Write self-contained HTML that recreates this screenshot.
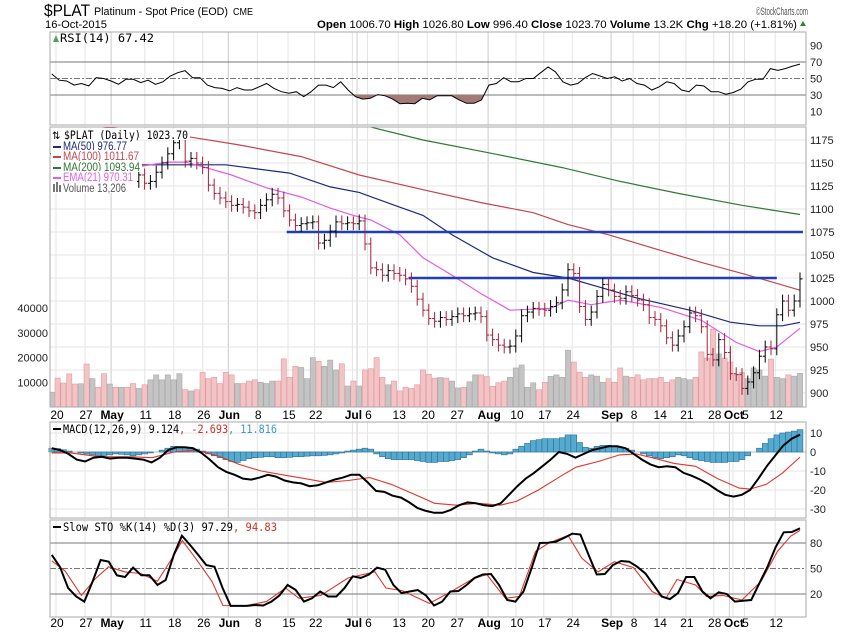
<!DOCTYPE html>
<html><head><meta charset="utf-8"><title>$PLAT chart</title>
<style>
html,body{margin:0;padding:0;background:#fff;}
svg{display:block;font-family:"Liberation Sans",sans-serif;}
.mono{font-family:"DejaVu Sans Mono","Liberation Mono",monospace;}
</style></head>
<body>
<svg id="chart" width="850" height="633" viewBox="0 0 850 633" xmlns="http://www.w3.org/2000/svg">
<defs>
<clipPath id="mainClip"><rect x="50" y="127" width="756" height="280"/></clipPath>
<clipPath id="rsiLowClip"><rect x="50" y="95" width="756" height="30"/></clipPath>
</defs>
<text x="44" y="16" font-size="17" textLength="46" lengthAdjust="spacingAndGlyphs">$PLAT</text>
<text x="94" y="15" font-size="11" textLength="134" lengthAdjust="spacingAndGlyphs">Platinum  - Spot Price (EOD)</text>
<text x="233" y="15" font-size="10" textLength="20" lengthAdjust="spacingAndGlyphs">CME</text>
<text x="808" y="15" font-size="11" fill="#555" text-anchor="end" textLength="52" lengthAdjust="spacingAndGlyphs">©StockCharts.com</text>
<text x="45" y="28" font-size="11" textLength="62" lengthAdjust="spacingAndGlyphs">16-Oct-2015</text>
<text x="317" y="28" font-size="11" textLength="480" lengthAdjust="spacingAndGlyphs"><tspan font-weight="bold">Open</tspan> 1006.70 <tspan font-weight="bold">High</tspan> 1026.80 <tspan font-weight="bold">Low</tspan> 996.40 <tspan font-weight="bold">Close</tspan> 1023.70 <tspan font-weight="bold">Volume</tspan> 13.2K <tspan font-weight="bold">Chg</tspan> +18.20 (+1.81%)</text>
<polygon points="800,26 806,26 803,21" fill="#2a8a2a"/>
<g id="layer"></g>
</svg>
<script>
// ---------- DATA ----------
const closes = [1160,1155,1150,1140,1135,1145,1140,1150,1145,1138,1142,1135,1140,1138,1130,
1137,1128,1130,1140,1150,1160,1172,1176,1152,1155,1150,1145,1126,1117,1112,
1108,1104,1105,1102,1098,1096,1104,1110,1116,1112,1098,1088,1082,1084,1085,
1086,1063,1066,1076,1086,1084,1085,1084,1087,1062,1036,1034,1028,1033,1030,
1028,1024,1016,1002,990,981,978,982,980,983,986,984,986,987,983,
963,958,952,950,951,962,984,988,992,991,990,994,998,1012,1034,
1030,994,980,988,1005,1018,1012,1005,1003,1010,1006,1001,996,982,980,
973,960,952,962,972,987,984,972,942,936,958,944,921,920,905,
912,922,940,950,948,985,1000,990,1000,1024];
const volumes = [6000,11700,9700,13400,9300,9400,17400,11500,8000,13500,9300,8000,8000,8000,9500,
7500,9000,11000,13000,11000,13000,11000,13500,7000,6500,7000,14000,11500,12000,9500,
14000,13000,9500,9500,10500,11000,10000,9500,10500,10500,19500,12000,16500,16000,11500,
20000,18500,16500,19000,15000,17500,8500,10500,8500,15000,15500,20000,12000,9000,10500,
6500,8000,7500,9000,
15000,13300,11700,11900,11700,10500,7700,8000,10200,13000,13000,12300,8400,9800,10500,12000,15800,17000,8000,9800,7000,10000,12400,13000,12000,23000,
18200,14100,12000,13000,12500,10000,11500,10000,15800,12500,12000,13000,11000,11500,11500,12000,10000,11000,12000,11500,11000,12000,
22300,19800,31500,21500,19800,
18200,13000,14000,11500,15800,15000,12500,19400,12000,11500,13000,12500,13600];
const ma50Idx = [15,30,41,48,53,60,64,69,76,83,89,95,101,110,117,122,126,129];
const ma50Val = [1148,1148,1139,1124,1118,1102,1093,1072,1047,1031,1025,1014,1003,990,977,973,973,976.8];
const ma100Idx = [0,15,24,32,43,53,64,74,83,89,96,105,112,119,124,129];
const ma100Val = [1195,1185,1178,1170,1157,1137,1121,1107,1096,1083,1072,1055,1042,1030,1021,1011.7];
const ma200Idx = [55,64,77,88,98,108,119,129];
const ma200Val = [1189,1175,1159,1145,1130,1117,1104,1094];
const emaIdx = [15,20,23,26,31,37,43,48,52,55,60,64,69,74,79,86,89,93,98,105,112,118,122,125,129];
const emaVal = [1146,1151,1151,1146,1137,1123,1113,1101,1093,1088,1072,1047,1028,1008,990,992,1001,996,1001,993,979,955,945,950,970.3];
const levelLines = [1075,1025];
const levelStart = [40.5,61.5];
const levelEnd = [129.5,125];
const priceTicks = [1175,1150,1125,1100,1075,1050,1025,1000,975,950,925,900];
const volTicks = [40000,30000,20000,10000];
const rsiVals = [55.5,48,47,42,44,41,51,50,47,43,49,49,45,48,43,46,53,57,59.5,51,51,42,39,38,35,39,36,36,40,44,38,34,32,34,28,34,42,42,39,46,36,28,25,26,30.5,29,25,19.5,20,19.5,26,24,29,29,29,24,20,20,24,42,44,51,46,46,50,50,57,64,58,46,42,44,51,56,53,50,52,47,50,44,42,36,40,46,44,36,34,42,41,34,34,31,33,37,46,49,49,62,60,62,65,67.4];
const rsiTicks = [90,70,50,30,10];
const macdVals = [2,1,-1,-4,-5,-3,-2.5,-3.5,-3,-3,-3.5,-4,-5.5,-3,1,2.5,2.5,2,-0.5,-4,-8,-10.5,-12,-14,-14.5,-13.5,-12,-13,-15,-16,-16.5,-18,-17.5,-16,-14.5,-13.5,-12,-12,-16,-20.5,-21,-23,-24,-26.5,-29.5,-31,-32,-32,-30.5,-28,-26.5,-27,-28,-28.5,-27,-22.5,-18,-14,-11,-7.5,-4,0,-1,-3,-1,1,2,3,3,2,-1,-4,-6.5,-8,-7.5,-8,-11,-12.5,-14.5,-17,-20,-22.5,-23.5,-22.5,-20,-14,-7.5,-2,3.5,7,9.1];
const sigIdx = [0,3.3,7,9.8,13.6,17.3,21.1,24.8,28.6,32.3,36.1,39.8,43.6,47.3,51.1,54.8,58.5,62.3,66,69.8,73.5,77.3,80.1,83.9,87.6,90.4,94.2,97.9,100.7,103.5,107.3,111,114.8,118.5,120.4,123.2,126,129];
const sigVals = [-0.5,-0.5,-2,-2.5,-2.5,-3,0,1,-2,-6.5,-10,-12,-14,-16,-15,-13.5,-17,-22,-27,-28,-27,-28,-26,-20,-13,-8,-5,-1.5,-1,-3,-6,-7.5,-14,-19,-19.5,-17,-11,-2.7];
const histVals = [2,1.8,1.2,0.5,0,-0.5,
-1,-1.5,-2,-1.8,-1.5,-1,-1.2,-1.5,-2,-1.5,-1,-0.5,0,
1,2,3,2.8,2.5,2.2,1.5,0.5,
-1,-2,-3,-4,-5,-5.5,-4.5,-3.5,
-3,-2.8,-2.5,-2.5,-3,-3,-2.8,-2.5,-2.5,-2.2,-2,-2,-1.8,-1.5,-1,-0.5,
0.5,1,1.5,2,1.5,
-1,-2.5,-3.5,-4,-4,-4,-4,-4.5,-5,-5.5,-5.5,-5,-5,-4.5,-4,-3,-1.5,
0.5,1.5,0.5,
-0.5,-1,-1.5,-1,
1.5,3,4.5,6,6.5,7,7,7,7.5,9,9,
5,2.5,2,
3,3.5,3.5,3,
2.5,2,1,0,
-1,-2,-3,-3.5,-3,-2.5,-1.5,-2,-3,-4,-4.5,-5,-5.5,-5.5,-5.5,-5,-5,-4,-2,
0,2,4.5,7,9,10,10.5,11,11.8];
const macdTicks = [10,0,-10,-20,-30];
const kVals = [66,52,27,17,11,34.5,60,58,42,40,51,42,42,30.6,36.5,66,88.6,77.6,66,54,52,27,6,6,6,7,6.5,11,18.4,30.6,24.7,11,15,23,17,17,27,40.8,39,43,51,48.6,30.6,21,23,24.7,18.4,6.5,11,23,23.5,30.6,39,43,43.5,30.6,13,11,23,50.4,80,80.4,81.6,86,91,90,66,43,43.5,54,58.8,58,52,44,30.6,17,14,21,40,40,23,15,22,20,11,12,13,32.5,52,75,92.6,93,97.3];
const dIdx = [0,2.3,5.1,7.5,9.8,12.6,15.4,18.2,21.1,22.5,24.8,27.6,29.5,33.2,37,40.3,42.6,46.4,51.1,55.7,57.6,60.4,65.1,68.9,72.6,75,78.2,80.6,83.4,85.7,89,91.4,94.2,97,100.3,103.5,105.9,107.8,111,112.9,115.7,119,122.3,125.1,127.4,129];
const dVals = [59,47,18.4,38,52,46,44,35,66,83,62,35,6.5,6,11,27,15,18.4,39,46,27,24,9,23,38,43,15,17,70,80,89,62,46,58,51,23,15,37,30.6,17,18.4,13,35,70,88,94.8];
const stoTicks = [80,50,20];
const dateLabels = ["20","27","May","11","18","26","Jun","8","15","22","Jul","6","13","20","27","Aug","10","17","24","Sep","8","14","21","28","Oct","5","12"];
const dateIdx = [0.9,5.9,10.4,16.2,21.2,26.2,30.6,35.6,40.9,45.5,52,54.6,59.9,64.9,69.9,75.4,80.2,85,89.9,96.6,100.4,104.9,109.5,114.3,117.6,119.6,124.9];
const monthGrid = [10.4,30.6,52.8,75.4,96.6,117];

// ---------- SCALES ----------
const X0 = 51.8, DX = 5.8, NB = closes.length;
function xS(i){ return X0 + DX*i; }
function yP(p){ return 140 + (1175-p)*0.92; }
function yV(v){ return 407 - v*0.00247; }
function yR(v){ return 62 + (70-v)*0.825; }
function yM(v){ return 452 - v*1.9; }
function yK(v){ return 543 + (80-v)*0.85; }
function spread(k,n){ return k*(NB-1)/(n-1); }

const NS = "http://www.w3.org/2000/svg";
const layer = document.getElementById('layer');
function mk(tag, attrs, parent){
  const e = document.createElementNS(NS, tag);
  for (const k in attrs) e.setAttribute(k, attrs[k]);
  (parent||layer).appendChild(e);
  return e;
}
function pts(xs, ys){ return xs.map((x,k)=>x.toFixed(1)+','+ys[k].toFixed(1)).join(' '); }

// ---------- PANELS ----------
const panels = [['rsi-panel',32,125],['price-panel',127,407],['macd-panel',422,518],['sto-panel',520,617]];
panels.forEach(p=>{
  const r = mk('rect',{x:50,y:p[1],width:756,height:p[2]-p[1],fill:'#fff',stroke:'none'});
  
  
});
panels.forEach(p=>{
  dateIdx.forEach((d,k)=>{
    const gl = mk('line',{x1:xS(d)-1,x2:xS(d)-1,y1:p[1],y2:p[2],stroke:'#e4e4e4','stroke-width':1});
    
    
  });
  monthGrid.forEach(d=>{
    const gl = mk('line',{x1:xS(d)-1,x2:xS(d)-1,y1:p[1],y2:p[2],stroke:'#cfcfcf','stroke-width':1});
    
    
  });
});
priceTicks.forEach(t=>{
  const g = mk('line',{x1:50,x2:806,y1:yP(t),y2:yP(t),stroke:'#e6e6e6'});
  
  
  const tx = mk('text',{x:810,y:yP(t)+4,'font-size':11,fill:'#222'});
  tx.textContent = t;
  
  
});
volTicks.forEach(t=>{
  const tx = mk('text',{x:48,y:yV(t)+4,'font-size':11,fill:'#222','text-anchor':'end'});
  tx.textContent = t;
  
  
});
rsiTicks.forEach(t=>{
  const tx = mk('text',{x:810,y:yR(t)+4,'font-size':11,fill:'#222'});
  tx.textContent = t;
  
  
});
macdTicks.forEach(t=>{
  const g = mk('line',{x1:50,x2:806,y1:yM(t),y2:yM(t),stroke:'#e6e6e6'});
  
  
  const tx = mk('text',{x:810,y:yM(t)+4,'font-size':11,fill:'#222'});
  tx.textContent = t;
  
  
});
stoTicks.forEach(t=>{
  const tx = mk('text',{x:810,y:yK(t)+4,'font-size':11,fill:'#222'});
  tx.textContent = t;
  
  
});
[[yR(70),'rsi-overbought-line',''],[yR(50),'rsi-midline','6,2,2,2'],[yR(30),'rsi-oversold-line',''],
 [yK(80),'sto-overbought-line',''],[yK(50),'sto-midline','6,2,2,2'],[yK(20),'sto-oversold-line','']].forEach(r=>{
  const l = mk('line',{x1:50,x2:806,y1:r[0],y2:r[0],stroke:'#777','stroke-width':1,'stroke-dasharray':r[2]});
  
  
});

// ---------- RSI ----------
const rx = rsiVals.map((v,k)=>xS(spread(k,rsiVals.length)));
const ry = rsiVals.map(yR);
const rsiFill = mk('polygon',{points:pts(rx,ry)+' '+rx[rx.length-1]+','+yR(30)+' '+rx[0]+','+yR(30),fill:'#a47a76','clip-path':'url(#rsiLowClip)'});


const rsiLine = mk('polyline',{points:pts(rx,ry),fill:'none',stroke:'#000','stroke-width':1});



// ---------- PRICE PANEL ----------
const main = mk('g',{'clip-path':'url(#mainClip)'});


volumes.forEach((v,i)=>{
  const down = i>0 && closes[i]<closes[i-1];
  const b = mk('rect',{x:xS(i)-2.6,y:yV(v),width:5.2,height:407-yV(v),fill:down?'#f2c4c6':'#c4c4c4',stroke:down?'#e09aa0':'#a8a8a8','stroke-width':0.6},main);
  
  
});
function drawLine(idx, vals, color, w, name){
  const l = mk('polyline',{points:pts(idx.map(xS), vals.map(yP)),fill:'none',stroke:color,'stroke-width':w},main);
  
  
}
drawLine(ma200Idx, ma200Val, '#2f7a34', 1.2, 'ma200-line');
drawLine(ma100Idx, ma100Val, '#c24550', 1.2, 'ma100-line');
drawLine(ma50Idx, ma50Val, '#1c2a7a', 1.2, 'ma50-line');
drawLine(emaIdx, emaVal, '#e45ce4', 1.2, 'ema21-line');
levelLines.forEach((lv,k)=>{
  const l = mk('line',{x1:xS(levelStart[k]),x2:xS(levelEnd[k]),y1:yP(lv),y2:yP(lv),stroke:'#1f3fb4','stroke-width':2.5},main);
  
  
});
closes.forEach((c,i)=>{
  const o = i>0 ? closes[i-1] : c;
  const hi = Math.max(o,c)+7, lo = Math.min(o,c)-7;
  const col = (i>0 && c<o) ? '#a3203c' : '#000';
  const x = xS(i);
  const g = mk('g',{stroke:col,'stroke-width':1},main);
  
  
  mk('line',{x1:x,x2:x,y1:yP(hi),y2:yP(lo)},g);
  mk('line',{x1:x-2.5,x2:x,y1:yP(o),y2:yP(o)},g);
  mk('line',{x1:x,x2:x+2.5,y1:yP(c),y2:yP(c)},g);
});
// legend
const legend = mk('g',{});


mk('rect',{x:51,y:128,width:86,height:65,fill:'#fff'},legend);
const legItems = [['$PLAT (Daily) 1023.70','#000',135,124,'legend-price'],['MA(50) 976.77','#1c2a7a',146,64,'legend-ma50'],['MA(100) 1011.67','#c24550',156,76,'legend-ma100'],['MA(200) 1093.94','#2f7a34',167,77,'legend-ma200'],['EMA(21) 970.31','#e45ce4',177,70,'legend-ema21'],['Volume 13,206','#555',188,63,'legend-volume']];
legItems.forEach((it,k)=>{
  const tx0 = k===0?64:63;
  mk('rect',{x:51,y:it[2]-6,width:tx0-51+it[3]+2,height:11,fill:'#fff'},legend);
  const tx = mk('text',{x:tx0,y:it[2]+4,'font-size':11.5,fill:it[1],textLength:it[3],lengthAdjust:'spacingAndGlyphs',class:k===0?'mono':''},legend);
  tx.textContent = it[0];
  
  
  if(k>0 && k<5){ mk('rect',{x:53,y:it[2],width:8,height:2,fill:it[1]},legend); }
});
mk('text',{x:52,y:139,'font-size':10},legend).textContent='⇅';
mk('rect',{x:53,y:184,width:2,height:8,fill:'#777'},legend);
mk('rect',{x:56,y:182,width:2,height:10,fill:'#777'},legend);
mk('rect',{x:59,y:185,width:2,height:7,fill:'#777'},legend);

// ---------- MACD ----------
const zl = mk('line',{x1:50,x2:806,y1:yM(0),y2:yM(0),stroke:'#bbb'});


histVals.forEach((h,i)=>{
  const y0 = yM(0), y1 = yM(h);
  const b = mk('rect',{x:xS(i)-2.9,y:Math.min(y0,y1),width:5.8,height:Math.abs(y1-y0),fill:'#55aad0',stroke:'#2d6f92','stroke-width':0.6});
  
  
});
const sigLine = mk('polyline',{points:pts(sigIdx.map(xS), sigVals.map(yM)),fill:'none',stroke:'#e0362a','stroke-width':1.1});


const macdLine = mk('polyline',{points:pts(macdVals.map((v,k)=>xS(spread(k,macdVals.length))), macdVals.map(yM)),fill:'none',stroke:'#000','stroke-width':2});



// ---------- STO ----------
const dLine = mk('polyline',{points:pts(dIdx.map(xS), dVals.map(yK)),fill:'none',stroke:'#e0362a','stroke-width':1.1});


const kLine = mk('polyline',{points:pts(kVals.map((v,k)=>xS(spread(k,kVals.length))), kVals.map(yK)),fill:'none',stroke:'#000','stroke-width':2});



// ---------- LABELS ----------
function label(x,y,txt,name,len,color){
  const t = mk('text',{x:x,y:y,'font-size':11.5,class:'mono',fill:color||'#000',textLength:len,lengthAdjust:'spacingAndGlyphs'});
  t.textContent = txt;
  
  
  return t;
}
mk('polygon',{points:'53,42 56,35 59,42',fill:'#5a9a5a'});
label(60,42,'RSI(14) 67.42','rsi-label',94);
mk('rect',{x:53,y:428,width:8,height:2,fill:'#000'});
const ml = label(63,433,'','macd-label',214);
ml.innerHTML = '<tspan>MACD(12,26,9) 9.124</tspan><tspan fill="#d03020">, -2.693</tspan><tspan fill="#3a9ac0">, 11.816</tspan>';
mk('rect',{x:53,y:526,width:8,height:2,fill:'#000'});
const sl = label(63,531,'','sto-label',214);
sl.innerHTML = '<tspan>Slow STO %K(14) %D(3) 97.29</tspan><tspan fill="#d03020">, 94.83</tspan>';

panels.forEach(p=>{
  const r = mk('rect',{x:50,y:p[1],width:756,height:p[2]-p[1],fill:'none',stroke:'#aaa'});
  
  
});
const boldSet = ['May','Jun','Jul','Aug','Sep','Oct'];
[419,627].forEach((yy,row)=>{
  dateLabels.forEach((d,k)=>{
    const t = mk('text',{x:xS(dateIdx[k]),y:yy,'font-size':12,'text-anchor':'middle','font-weight':boldSet.includes(d)?'bold':'normal'});
    t.textContent = d;
    
    
  });
});
</script>
</body></html>
